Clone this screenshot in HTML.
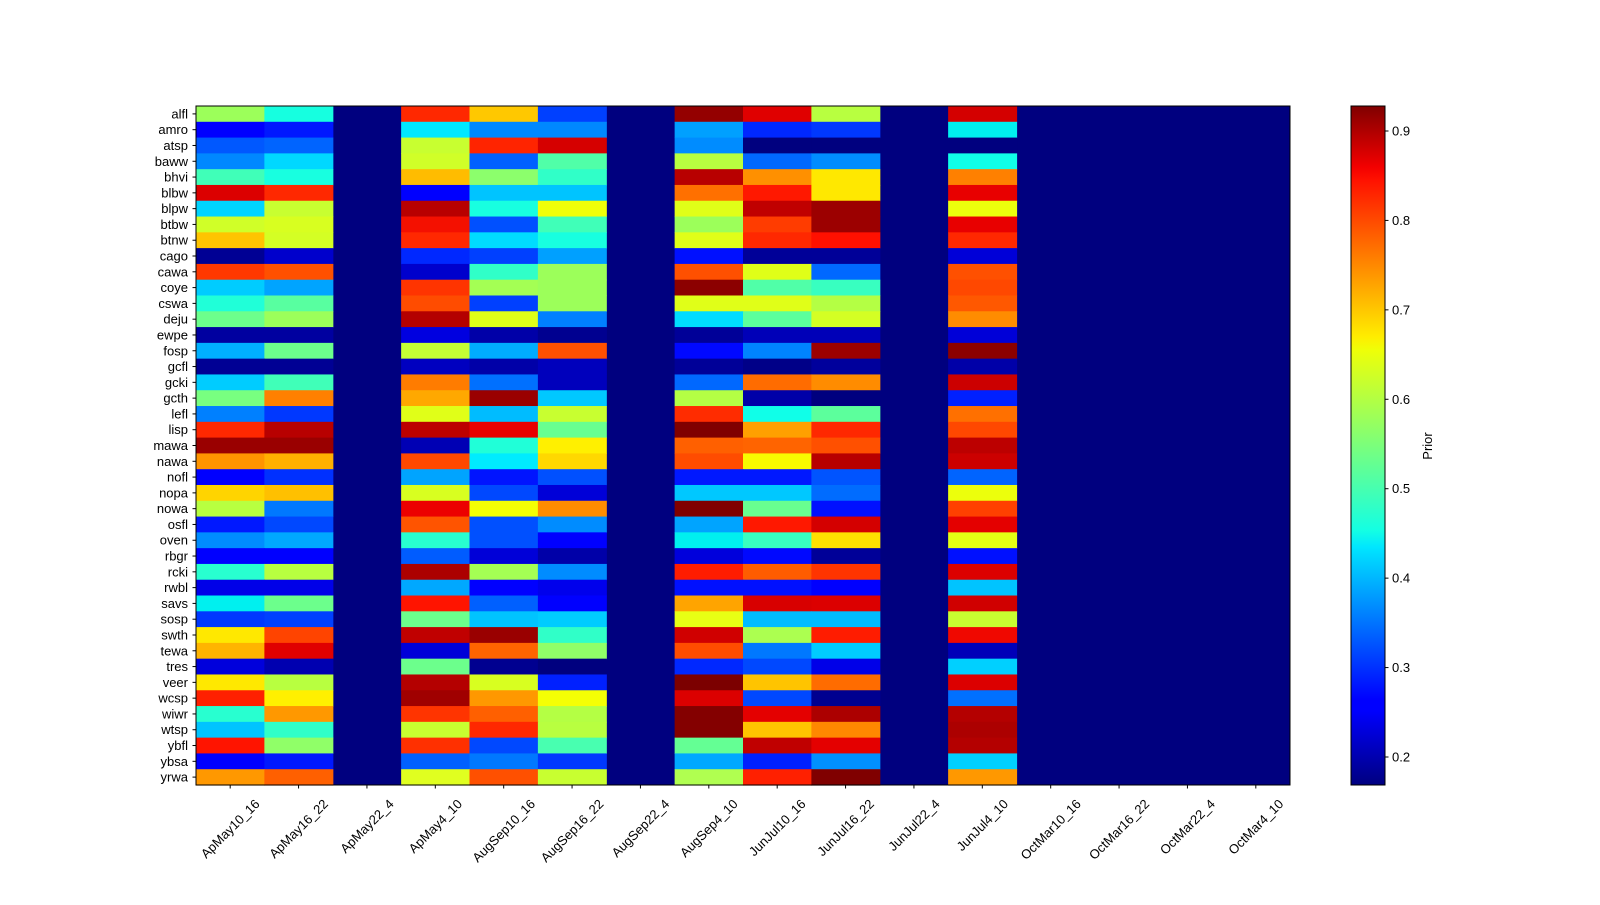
<!DOCTYPE html>
<html><head><meta charset="utf-8"><style>
html,body{margin:0;padding:0;background:#fff;}
svg text{font-family:"Liberation Sans","DejaVu Sans",sans-serif;font-size:13px;fill:#000;}
</style></head><body>
<svg id="s" width="1600" height="900" xmlns="http://www.w3.org/2000/svg">
<defs><linearGradient id="jet" x1="0" y1="1" x2="0" y2="0">
<stop offset="0" stop-color="#000080"/><stop offset="0.11" stop-color="#0000ff"/><stop offset="0.125" stop-color="#0000ff"/>
<stop offset="0.34" stop-color="#00dbff"/><stop offset="0.35" stop-color="#00e6ff"/><stop offset="0.375" stop-color="#14ffe3"/>
<stop offset="0.5" stop-color="#7bff7b"/><stop offset="0.64" stop-color="#eeff08"/><stop offset="0.66" stop-color="#ffed00"/>
<stop offset="0.89" stop-color="#ff1200"/><stop offset="0.91" stop-color="#f30000"/><stop offset="1" stop-color="#800000"/>
</linearGradient></defs>
<g id="cells"></g>
<rect x="196" y="106" width="1094" height="679" fill="none" stroke="#000" stroke-width="1"/>
<rect x="1351" y="106" width="34" height="679" fill="url(#jet)" stroke="#000" stroke-width="1"/>
<g id="ax"></g>
<text transform="translate(1432,446) rotate(-90)" text-anchor="middle">Prior</text>
</svg>
<script>
var rows="alfl amro atsp baww bhvi blbw blpw btbw btnw cago cawa coye cswa deju ewpe fosp gcfl gcki gcth lefl lisp mawa nawa nofl nopa nowa osfl oven rbgr rcki rwbl savs sosp swth tewa tres veer wcsp wiwr wtsp ybfl ybsa yrwa".split(" ");
var A=`9cff5a 16ffe0 ff2800 ffc800 0040ff
0000ff 0018ff 00e8ff 0088ff 0088ff
0058ff 0064ff c8ff30 ff2400 d60000
0088ff 00d8ff d0ff28 0060ff 50ffa8
40ffb8 18ffe0 ffbc00 8cff6c 30ffc8
dc0000 ff2800 0000ff 00c4ff 00c4ff
00d4ff c8ff30 b80000 18ffe0 f0ff08
d0ff28 d8ff20 f41000 0050ff 40ffb8
ffc400 d4ff24 ff2800 00dcff 18ffe0
000094 0000cc 0028ff 0040ff 00a0ff
ff3800 ff5000 0000cc 30ffc8 9cff5a
00ccff 00a4ff ff3400 a4ff54 9cff5a
20ffd8 58ffa0 ff4c00 0040ff 9cff5a
6cff8c 9cff5a b40000 e0ff18 0080ff
0000a0 0000a0 0000e0 0000a8 000090
00b0ff 6cff8c c4ff34 00acff ff5000
000094 000094 0000c0 0000a8 0000bc
00ccff 40ffb8 ff7c00 0070ff 0000bc
78ff80 ff8000 ffa800 9a0000 00c8ff
0080ff 0038ff e0ff18 00bcff c8ff30
ff2800 b80000 bc0000 e80000 68ff90
9a0000 9a0000 0000b4 20ffd8 fff000
ff9400 ffb000 ff4800 00ecff ffd800
0000ff 0030ff 00a4ff 0014ff 0050ff
ffd400 ffc000 d8ff20 0048ff 0000d8
b8ff40 0078ff ec0000 f4ff04 ff8c00
0018ff 0048ff ff5400 0050ff 008cff
008cff 00a8ff 28ffd0 0050ff 0000ff
0000ff 0000ff 005cff 0000d8 0000a8
28ffd0 b8ff40 ac0000 a4ff54 008cff
0000e8 0000e8 00a8ff 0000ff 0000ec
00f0ef 6cff8c ff1400 0060ff 0000ff
0038ff 0040ff 6cff8c 00c4ff 00ccff
ffe800 ff4400 c00000 9a0000 30ffc8
ffb400 e00000 0000d8 ff6400 90ff68
0000dc 0000b0 6cff8c 000090 00007f
ffe800 b8ff40 b40000 d8ff20 0020ff
ff2000 fff000 a00000 ff9800 f4ff04
28ffd0 ff9800 ff3400 ff6000 b4ff44
00c4ff 30ffc8 c8ff30 ff2800 b8ff40
ff1400 90ff68 ff3000 0048ff 48ffb0
0000ff 0018ff 0060ff 0078ff 0038ff
ff9800 ff6000 e0ff20 ff5000 c8ff30`;
var B=`940000 e00000 b8ff40 d40000
00a0ff 0028ff 0038ff 00f0f0
008cff 00007f 00007f 00007f
b8ff40 0068ff 008cff 10ffe8
b80000 ff9000 ffe800 ff8000
ff7000 ff1800 ffe800 e80000
e0ff18 c00000 9c0000 ecff0c
9cff5a ff3c00 9c0000 e80000
e0ff18 ff2800 ff1000 ff2800
0010ff 000098 000098 0000d8
ff5000 e0ff18 0068ff ff5000
8c0000 50ffa8 38ffc0 ff4800
e0ff18 e0ff18 b4ff44 ff5800
00dcff 5cff9c d4ff24 ff8c00
000098 0000b8 0000b8 0000d8
0008ff 0084ff 9c0000 8c0000
000098 000088 00009c 0000a8
0068ff ff6c00 ff8c00 cc0000
b4ff44 0000a8 00007f 0020ff
ff2c00 10ffe8 5cff9c ff7000
800000 ffa000 ff2800 ff4800
ff6000 ff6400 ff5000 bc0000
ff4c00 f8fb00 b80000 cc0000
0018ff 0018ff 0054ff 0064ff
00c8ff 00c8ff 006cff ecff0c
800000 68ff90 0010ff ff4000
00a4ff ff1800 d40000 e40000
00f0ef 38ffc0 ffe000 e4ff14
0000dc 0008ff 000098 0010ff
ff1c00 ff5c00 ff3400 dc0000
0010ff 0010ff 0000ff 00c4ff
ffa400 d80000 dc0000 d00000
e8ff14 00bcff 00bcff c8ff30
d00000 acff50 ff1c00 f00800
ff4c00 0078ff 00ccff 0000b8
0028ff 0048ff 0000e8 00d0ff
7c0000 ffc400 ff6c00 dc0000
dc0000 0048ff 000090 0070ff
840000 e40000 ac0000 b40000
840000 ffc400 ff8800 ac0000
64ff94 c00000 e40000 b40000
00a8ff 0020ff 0090ff 00d0ff
b0ff50 ff2000 800000 ff9800`;
var a=A.trim().split("\n").map(l=>l.trim().split(/\s+/)),b=B.trim().split("\n").map(l=>l.trim().split(/\s+/));
var cols=["ApMay10_16","ApMay16_22","ApMay22_4","ApMay4_10","AugSep10_16","AugSep16_22","AugSep22_4","AugSep4_10","JunJul10_16","JunJul16_22","JunJul22_4","JunJul4_10","OctMar10_16","OctMar16_22","OctMar22_4","OctMar4_10"];
var x0=196,y0=106,cw=1094/16,rh=679/43,h="";
h+='<rect x="196" y="106" width="1094" height="679" fill="#00007f"/>';
var ai=[0,1,-1,2,3,4],bi={7:0,8:1,9:2,11:3};
for(var r=0;r<43;r++){for(var c=0;c<12;c++){var col=null;
if(c<6&&ai[c]>=0)col=a[r][ai[c]];else if(bi[c]!==undefined)col=b[r][bi[c]];
if(col)h+='<rect x="'+(x0+c*cw).toFixed(2)+'" y="'+(y0+r*rh).toFixed(2)+'" width="'+(cw+0.6).toFixed(2)+'" height="'+(rh+0.6).toFixed(2)+'" fill="#'+col+'"/>';}}
document.getElementById("cells").innerHTML=h;
var g="";
for(var r=0;r<43;r++){var y=y0+(r+0.5)*rh;g+='<line x1="192.5" x2="196" y1="'+y+'" y2="'+y+'" stroke="#000"/><text x="188" y="'+(y+4.5)+'" text-anchor="end">'+rows[r]+'</text>';}
for(var c=0;c<16;c++){var x=x0+(c+0.5)*cw;g+='<line x1="'+x+'" x2="'+x+'" y1="785" y2="788.5" stroke="#000"/><text class="xl" data-x="'+x+'" text-anchor="middle">'+cols[c]+'</text>';}
for(var v=2;v<=9;v++){var y=757-(v-2)*89.43;g+='<line x1="1385" x2="1388.5" y1="'+y+'" y2="'+y+'" stroke="#000"/><text x="1392" y="'+(y+4.5)+'">0.'+v+'</text>';}
document.getElementById("ax").innerHTML=g;
document.querySelectorAll(".xl").forEach(function(t){var L=t.getComputedTextLength();var x=+t.getAttribute("data-x");
var cy=797+(L+13)*0.7071/2;t.setAttribute("transform","translate("+x+","+cy+") rotate(-45) translate(0,4.5)");});
</script>
</body></html>
